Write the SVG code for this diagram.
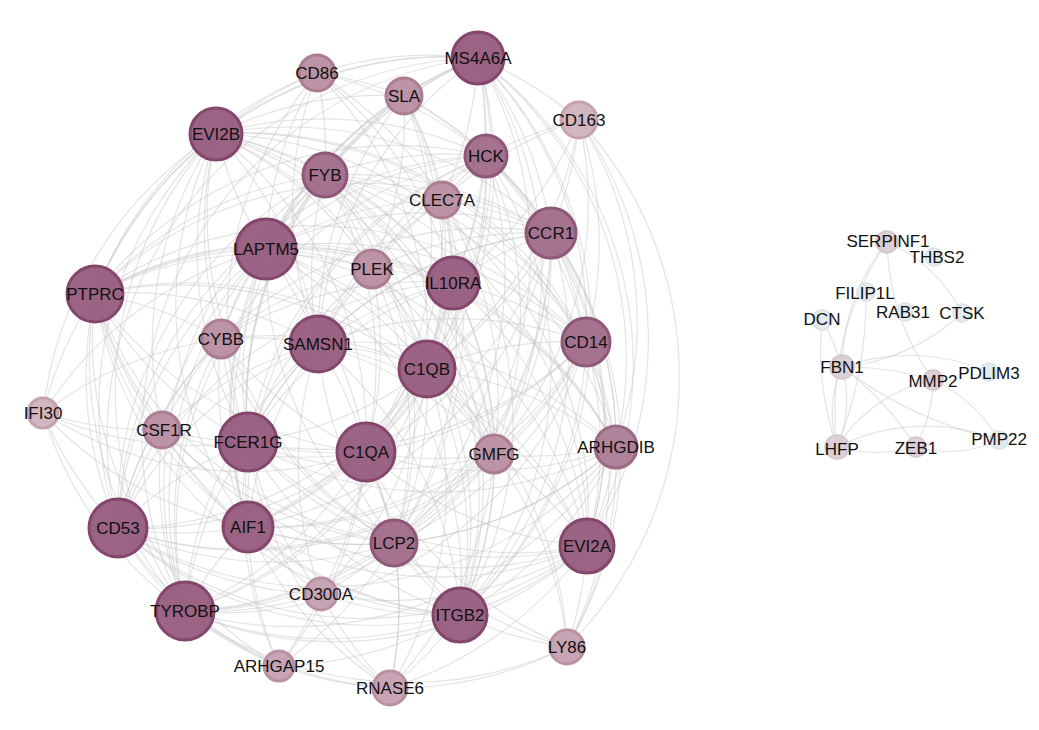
<svg xmlns="http://www.w3.org/2000/svg" width="1039" height="730" viewBox="0 0 1039 730">
<style>
.e path{fill:none;stroke:#c6c6c6;stroke-opacity:.47;stroke-width:1.2}
.n circle{stroke-width:3}
.n text{font-family:"Liberation Sans",Arial,sans-serif;font-size:17px;fill:#111;text-anchor:middle}
.c1 circle{fill:#965b7d;stroke:#84466c;fill-opacity:.95}
.c2 circle{fill:#a06b89;stroke:#8f5879;fill-opacity:.95}
.c3 circle{fill:#ab7c95;stroke:#9c6a86;fill-opacity:.95}
.c4 circle{fill:#b98da1;stroke:#ab7d93;fill-opacity:.95}
.c5 circle{fill:#c5a0b0;stroke:#b991a4;fill-opacity:.95}
.c6 circle{fill:#d0b2be;stroke:#c4a3b1;fill-opacity:.95}
.r1 circle{fill:#dccfd7;stroke:#d3c4cd;stroke-width:1.5}
.r2 circle{fill:#e3ebef;stroke:#d9e3e8;stroke-width:1.5}
</style>
<g id="connectors" class="e">
<path d="M478 58A380 380 0 0 0 216 134"/><path d="M478 58A380 380 0 0 0 266 249"/><path d="M478 58A380 380 0 0 0 95 294"/><path d="M478 58A380 380 0 0 0 318 344"/><path d="M478 58A380 380 0 0 1 427 369"/><path d="M478 58A380 380 0 0 1 453 283"/><path d="M478 58A380 380 0 0 1 551 233"/><path d="M478 58A380 380 0 0 1 366 452"/><path d="M478 58A380 380 0 0 0 248 442"/><path d="M478 58A380 380 0 0 0 118 528"/><path d="M478 58A380 380 0 0 0 248 527"/><path d="M478 58A380 380 0 0 0 185 611"/><path d="M478 58A380 380 0 0 1 460 615"/><path d="M478 58A380 380 0 0 1 587 546"/><path d="M478 58A380 380 0 0 1 394 543"/><path d="M478 58A380 380 0 0 1 586 342"/><path d="M478 58A380 380 0 0 1 486 156"/><path d="M478 58A380 380 0 0 0 325 175"/><path d="M478 58A380 380 0 0 1 616 447"/><path d="M478 58A380 380 0 0 1 494 454"/>
<path d="M216 134A380 380 0 0 0 266 249"/><path d="M216 134A380 380 0 0 0 95 294"/><path d="M216 134A380 380 0 0 1 318 344"/><path d="M216 134A380 380 0 0 1 427 369"/><path d="M216 134A380 380 0 0 1 453 283"/><path d="M216 134A380 380 0 0 1 551 233"/><path d="M216 134A380 380 0 0 1 366 452"/><path d="M216 134A380 380 0 0 0 248 442"/><path d="M216 134A380 380 0 0 0 118 528"/><path d="M216 134A380 380 0 0 0 248 527"/><path d="M216 134A380 380 0 0 0 185 611"/><path d="M216 134A380 380 0 0 1 460 615"/><path d="M216 134A380 380 0 0 1 587 546"/><path d="M216 134A380 380 0 0 0 394 543"/><path d="M216 134A380 380 0 0 1 586 342"/><path d="M216 134A380 380 0 0 1 486 156"/><path d="M216 134A380 380 0 0 1 325 175"/><path d="M216 134A380 380 0 0 1 616 447"/><path d="M216 134A380 380 0 0 1 494 454"/>
<path d="M266 249A380 380 0 0 0 95 294"/><path d="M266 249A380 380 0 0 1 318 344"/><path d="M266 249A380 380 0 0 1 427 369"/><path d="M266 249A380 380 0 0 1 453 283"/><path d="M266 249A380 380 0 0 1 551 233"/><path d="M266 249A380 380 0 0 1 366 452"/><path d="M266 249A380 380 0 0 0 248 442"/><path d="M266 249A380 380 0 0 0 118 528"/><path d="M266 249A380 380 0 0 0 248 527"/><path d="M266 249A380 380 0 0 0 185 611"/><path d="M266 249A380 380 0 0 1 460 615"/><path d="M266 249A380 380 0 0 1 587 546"/><path d="M266 249A380 380 0 0 0 394 543"/><path d="M266 249A380 380 0 0 1 586 342"/><path d="M266 249A380 380 0 0 1 486 156"/><path d="M266 249A380 380 0 0 1 325 175"/><path d="M266 249A380 380 0 0 1 616 447"/><path d="M266 249A380 380 0 0 1 494 454"/>
<path d="M95 294A380 380 0 0 1 318 344"/><path d="M95 294A380 380 0 0 1 427 369"/><path d="M95 294A380 380 0 0 1 453 283"/><path d="M95 294A380 380 0 0 1 551 233"/><path d="M95 294A380 380 0 0 0 366 452"/><path d="M95 294A380 380 0 0 0 248 442"/><path d="M95 294A380 380 0 0 0 118 528"/><path d="M95 294A380 380 0 0 0 248 527"/><path d="M95 294A380 380 0 0 0 185 611"/><path d="M95 294A380 380 0 0 0 460 615"/><path d="M95 294A380 380 0 0 0 587 546"/><path d="M95 294A380 380 0 0 0 394 543"/><path d="M95 294A380 380 0 0 1 586 342"/><path d="M95 294A380 380 0 0 1 486 156"/><path d="M95 294A380 380 0 0 1 325 175"/><path d="M95 294A380 380 0 0 1 616 447"/><path d="M95 294A380 380 0 0 1 494 454"/>
<path d="M318 344A380 380 0 0 1 427 369"/><path d="M318 344A380 380 0 0 1 453 283"/><path d="M318 344A380 380 0 0 1 551 233"/><path d="M318 344A380 380 0 0 1 366 452"/><path d="M318 344A380 380 0 0 0 248 442"/><path d="M318 344A380 380 0 0 0 118 528"/><path d="M318 344A380 380 0 0 0 248 527"/><path d="M318 344A380 380 0 0 0 185 611"/><path d="M318 344A380 380 0 0 1 460 615"/><path d="M318 344A380 380 0 0 1 587 546"/><path d="M318 344A380 380 0 0 0 394 543"/><path d="M318 344A380 380 0 0 1 586 342"/><path d="M318 344A380 380 0 0 1 486 156"/><path d="M318 344A380 380 0 0 1 325 175"/><path d="M318 344A380 380 0 0 1 616 447"/><path d="M318 344A380 380 0 0 1 494 454"/>
<path d="M427 369A380 380 0 0 0 453 283"/><path d="M427 369A380 380 0 0 0 551 233"/><path d="M427 369A380 380 0 0 1 366 452"/><path d="M427 369A380 380 0 0 1 248 442"/><path d="M427 369A380 380 0 0 1 118 528"/><path d="M427 369A380 380 0 0 1 248 527"/><path d="M427 369A380 380 0 0 1 185 611"/><path d="M427 369A380 380 0 0 1 460 615"/><path d="M427 369A380 380 0 0 1 587 546"/><path d="M427 369A380 380 0 0 1 394 543"/><path d="M427 369A380 380 0 0 1 586 342"/><path d="M427 369A380 380 0 0 0 486 156"/><path d="M427 369A380 380 0 0 0 325 175"/><path d="M427 369A380 380 0 0 1 616 447"/><path d="M427 369A380 380 0 0 1 494 454"/>
<path d="M453 283A380 380 0 0 1 551 233"/><path d="M453 283A380 380 0 0 1 366 452"/><path d="M453 283A380 380 0 0 0 248 442"/><path d="M453 283A380 380 0 0 0 118 528"/><path d="M453 283A380 380 0 0 1 248 527"/><path d="M453 283A380 380 0 0 1 185 611"/><path d="M453 283A380 380 0 0 1 460 615"/><path d="M453 283A380 380 0 0 1 587 546"/><path d="M453 283A380 380 0 0 1 394 543"/><path d="M453 283A380 380 0 0 1 586 342"/><path d="M453 283A380 380 0 0 0 486 156"/><path d="M453 283A380 380 0 0 0 325 175"/><path d="M453 283A380 380 0 0 1 616 447"/><path d="M453 283A380 380 0 0 1 494 454"/>
<path d="M551 233A380 380 0 0 1 366 452"/><path d="M551 233A380 380 0 0 0 248 442"/><path d="M551 233A380 380 0 0 0 118 528"/><path d="M551 233A380 380 0 0 1 248 527"/><path d="M551 233A380 380 0 0 1 185 611"/><path d="M551 233A380 380 0 0 1 460 615"/><path d="M551 233A380 380 0 0 1 587 546"/><path d="M551 233A380 380 0 0 1 394 543"/><path d="M551 233A380 380 0 0 1 586 342"/><path d="M551 233A380 380 0 0 0 486 156"/><path d="M551 233A380 380 0 0 0 325 175"/><path d="M551 233A380 380 0 0 1 616 447"/><path d="M551 233A380 380 0 0 1 494 454"/>
<path d="M366 452A380 380 0 0 1 248 442"/><path d="M366 452A380 380 0 0 1 118 528"/><path d="M366 452A380 380 0 0 1 248 527"/><path d="M366 452A380 380 0 0 1 185 611"/><path d="M366 452A380 380 0 0 0 460 615"/><path d="M366 452A380 380 0 0 0 587 546"/><path d="M366 452A380 380 0 0 1 394 543"/><path d="M366 452A380 380 0 0 0 586 342"/><path d="M366 452A380 380 0 0 0 486 156"/><path d="M366 452A380 380 0 0 0 325 175"/><path d="M366 452A380 380 0 0 0 616 447"/><path d="M366 452A380 380 0 0 0 494 454"/>
<path d="M248 442A380 380 0 0 0 118 528"/><path d="M248 442A380 380 0 0 0 248 527"/><path d="M248 442A380 380 0 0 0 185 611"/><path d="M248 442A380 380 0 0 0 460 615"/><path d="M248 442A380 380 0 0 0 587 546"/><path d="M248 442A380 380 0 0 0 394 543"/><path d="M248 442A380 380 0 0 0 586 342"/><path d="M248 442A380 380 0 0 1 486 156"/><path d="M248 442A380 380 0 0 1 325 175"/><path d="M248 442A380 380 0 0 0 616 447"/><path d="M248 442A380 380 0 0 0 494 454"/>
<path d="M118 528A380 380 0 0 0 248 527"/><path d="M118 528A380 380 0 0 0 185 611"/><path d="M118 528A380 380 0 0 0 460 615"/><path d="M118 528A380 380 0 0 0 587 546"/><path d="M118 528A380 380 0 0 0 394 543"/><path d="M118 528A380 380 0 0 0 586 342"/><path d="M118 528A380 380 0 0 1 486 156"/><path d="M118 528A380 380 0 0 1 325 175"/><path d="M118 528A380 380 0 0 0 616 447"/><path d="M118 528A380 380 0 0 0 494 454"/>
<path d="M248 527A380 380 0 0 0 185 611"/><path d="M248 527A380 380 0 0 0 460 615"/><path d="M248 527A380 380 0 0 0 587 546"/><path d="M248 527A380 380 0 0 0 394 543"/><path d="M248 527A380 380 0 0 0 586 342"/><path d="M248 527A380 380 0 0 1 486 156"/><path d="M248 527A380 380 0 0 1 325 175"/><path d="M248 527A380 380 0 0 0 616 447"/><path d="M248 527A380 380 0 0 0 494 454"/>
<path d="M185 611A380 380 0 0 0 460 615"/><path d="M185 611A380 380 0 0 0 587 546"/><path d="M185 611A380 380 0 0 0 394 543"/><path d="M185 611A380 380 0 0 0 586 342"/><path d="M185 611A380 380 0 0 1 486 156"/><path d="M185 611A380 380 0 0 1 325 175"/><path d="M185 611A380 380 0 0 0 616 447"/><path d="M185 611A380 380 0 0 0 494 454"/>
<path d="M460 615A380 380 0 0 0 587 546"/><path d="M460 615A380 380 0 0 1 394 543"/><path d="M460 615A380 380 0 0 0 586 342"/><path d="M460 615A380 380 0 0 0 486 156"/><path d="M460 615A380 380 0 0 0 325 175"/><path d="M460 615A380 380 0 0 0 616 447"/><path d="M460 615A380 380 0 0 0 494 454"/>
<path d="M587 546A380 380 0 0 1 394 543"/><path d="M587 546A380 380 0 0 0 586 342"/><path d="M587 546A380 380 0 0 0 486 156"/><path d="M587 546A380 380 0 0 0 325 175"/><path d="M587 546A380 380 0 0 0 616 447"/><path d="M587 546A380 380 0 0 0 494 454"/>
<path d="M394 543A380 380 0 0 0 586 342"/><path d="M394 543A380 380 0 0 0 486 156"/><path d="M394 543A380 380 0 0 0 325 175"/><path d="M394 543A380 380 0 0 0 616 447"/><path d="M394 543A380 380 0 0 0 494 454"/>
<path d="M586 342A380 380 0 0 0 486 156"/><path d="M586 342A380 380 0 0 0 325 175"/><path d="M586 342A380 380 0 0 1 616 447"/><path d="M586 342A380 380 0 0 1 494 454"/>
<path d="M486 156A380 380 0 0 0 325 175"/><path d="M486 156A380 380 0 0 1 616 447"/><path d="M486 156A380 380 0 0 1 494 454"/>
<path d="M325 175A380 380 0 0 1 616 447"/><path d="M325 175A380 380 0 0 1 494 454"/><path d="M616 447A380 380 0 0 1 494 454"/>
<path d="M317 73A380 380 0 0 0 216 134"/><path d="M317 73A380 380 0 0 0 266 249"/><path d="M317 73A380 380 0 0 1 325 175"/><path d="M317 73A380 380 0 0 1 404 96"/><path d="M317 73A380 380 0 0 1 478 58"/><path d="M317 73A380 380 0 0 0 318 344"/><path d="M317 73A380 380 0 0 0 95 294"/><path d="M317 73A380 380 0 0 1 427 369"/><path d="M317 73A380 380 0 0 1 453 283"/><path d="M317 73A380 380 0 0 1 442 200"/><path d="M317 73A380 380 0 0 1 486 156"/><path d="M317 73A380 380 0 0 0 248 442"/>
<path d="M404 96A380 380 0 0 1 478 58"/><path d="M404 96A380 380 0 0 0 325 175"/><path d="M404 96A380 380 0 0 0 266 249"/><path d="M404 96A380 380 0 0 0 216 134"/><path d="M404 96A380 380 0 0 1 453 283"/><path d="M404 96A380 380 0 0 1 427 369"/><path d="M404 96A380 380 0 0 1 442 200"/><path d="M404 96A380 380 0 0 1 486 156"/><path d="M404 96A380 380 0 0 0 318 344"/><path d="M404 96A380 380 0 0 1 372 269"/><path d="M404 96A380 380 0 0 1 366 452"/><path d="M404 96A380 380 0 0 0 248 442"/><path d="M404 96A380 380 0 0 1 551 233"/>
<path d="M579 120A380 380 0 0 0 478 58"/><path d="M579 120A380 380 0 0 0 486 156"/><path d="M579 120A380 380 0 0 1 551 233"/><path d="M579 120A380 380 0 0 1 586 342"/><path d="M579 120A380 380 0 0 1 587 546"/><path d="M579 120A380 380 0 0 1 616 447"/><path d="M579 120A380 380 0 0 1 453 283"/><path d="M579 120A380 380 0 0 1 427 369"/><path d="M579 120A380 380 0 0 1 494 454"/><path d="M579 120A380 380 0 0 1 567 647"/><path d="M579 120A380 380 0 0 0 442 200"/>
<path d="M442 200A380 380 0 0 0 478 58"/><path d="M442 200A380 380 0 0 1 486 156"/><path d="M442 200A380 380 0 0 0 325 175"/><path d="M442 200A380 380 0 0 0 266 249"/><path d="M442 200A380 380 0 0 0 318 344"/><path d="M442 200A380 380 0 0 1 453 283"/><path d="M442 200A380 380 0 0 1 427 369"/><path d="M442 200A380 380 0 0 1 551 233"/><path d="M442 200A380 380 0 0 1 586 342"/><path d="M442 200A380 380 0 0 0 372 269"/><path d="M442 200A380 380 0 0 1 366 452"/><path d="M442 200A380 380 0 0 1 494 454"/><path d="M442 200A380 380 0 0 1 394 543"/><path d="M442 200A380 380 0 0 1 460 615"/>
<path d="M372 269A380 380 0 0 0 266 249"/><path d="M372 269A380 380 0 0 0 325 175"/><path d="M372 269A380 380 0 0 0 318 344"/><path d="M372 269A380 380 0 0 1 453 283"/><path d="M372 269A380 380 0 0 1 427 369"/><path d="M372 269A380 380 0 0 1 366 452"/><path d="M372 269A380 380 0 0 0 248 442"/><path d="M372 269A380 380 0 0 1 551 233"/><path d="M372 269A380 380 0 0 0 216 134"/><path d="M372 269A380 380 0 0 0 95 294"/><path d="M372 269A380 380 0 0 0 221 339"/><path d="M372 269A380 380 0 0 1 486 156"/><path d="M372 269A380 380 0 0 1 394 543"/><path d="M372 269A380 380 0 0 1 460 615"/><path d="M372 269A380 380 0 0 1 494 454"/>
<path d="M221 339A380 380 0 0 1 266 249"/><path d="M221 339A380 380 0 0 0 95 294"/><path d="M221 339A380 380 0 0 1 216 134"/><path d="M221 339A380 380 0 0 1 318 344"/><path d="M221 339A380 380 0 0 0 248 442"/><path d="M221 339A380 380 0 0 0 366 452"/><path d="M221 339A380 380 0 0 1 427 369"/><path d="M221 339A380 380 0 0 0 248 527"/><path d="M221 339A380 380 0 0 0 118 528"/><path d="M221 339A380 380 0 0 0 185 611"/><path d="M221 339A380 380 0 0 0 162 430"/><path d="M221 339A380 380 0 0 1 325 175"/><path d="M221 339A380 380 0 0 1 453 283"/><path d="M221 339A380 380 0 0 0 394 543"/>
<path d="M162 430A380 380 0 0 1 95 294"/><path d="M162 430A380 380 0 0 1 266 249"/><path d="M162 430A380 380 0 0 0 248 442"/><path d="M162 430A380 380 0 0 0 118 528"/><path d="M162 430A380 380 0 0 0 248 527"/><path d="M162 430A380 380 0 0 0 185 611"/><path d="M162 430A380 380 0 0 0 366 452"/><path d="M162 430A380 380 0 0 1 318 344"/><path d="M162 430A380 380 0 0 1 216 134"/><path d="M162 430A380 380 0 0 1 43 413"/><path d="M162 430A380 380 0 0 0 460 615"/><path d="M162 430A380 380 0 0 0 394 543"/>
<path d="M321 594A380 380 0 0 1 185 611"/><path d="M321 594A380 380 0 0 1 248 527"/><path d="M321 594A380 380 0 0 1 248 442"/><path d="M321 594A380 380 0 0 0 366 452"/><path d="M321 594A380 380 0 0 0 394 543"/><path d="M321 594A380 380 0 0 0 460 615"/><path d="M321 594A380 380 0 0 1 118 528"/><path d="M321 594A380 380 0 0 1 279 666"/><path d="M321 594A380 380 0 0 0 390 688"/><path d="M321 594A380 380 0 0 1 318 344"/><path d="M321 594A380 380 0 0 0 427 369"/><path d="M321 594A380 380 0 0 0 587 546"/>
<path d="M279 666A380 380 0 0 1 185 611"/><path d="M279 666A380 380 0 0 1 118 528"/><path d="M279 666A380 380 0 0 1 248 527"/><path d="M279 666A380 380 0 0 1 248 442"/><path d="M279 666A380 380 0 0 0 390 688"/><path d="M279 666A380 380 0 0 0 460 615"/><path d="M279 666A380 380 0 0 0 366 452"/><path d="M279 666A380 380 0 0 0 394 543"/><path d="M279 666A380 380 0 0 1 95 294"/>
<path d="M390 688A380 380 0 0 1 185 611"/><path d="M390 688A380 380 0 0 0 460 615"/><path d="M390 688A380 380 0 0 0 394 543"/><path d="M390 688A380 380 0 0 0 366 452"/><path d="M390 688A380 380 0 0 0 587 546"/><path d="M390 688A380 380 0 0 0 567 647"/><path d="M390 688A380 380 0 0 1 248 527"/><path d="M390 688A380 380 0 0 1 248 442"/><path d="M390 688A380 380 0 0 0 427 369"/><path d="M390 688A380 380 0 0 0 494 454"/>
<path d="M567 647A380 380 0 0 0 587 546"/><path d="M567 647A380 380 0 0 1 460 615"/><path d="M567 647A380 380 0 0 0 616 447"/><path d="M567 647A380 380 0 0 0 586 342"/><path d="M567 647A380 380 0 0 1 366 452"/><path d="M567 647A380 380 0 0 0 427 369"/><path d="M567 647A380 380 0 0 1 394 543"/><path d="M567 647A380 380 0 0 0 494 454"/><path d="M567 647A380 380 0 0 0 551 233"/><path d="M567 647A380 380 0 0 1 185 611"/>
<path d="M43 413A380 380 0 0 1 95 294"/><path d="M43 413A380 380 0 0 0 118 528"/><path d="M43 413A380 380 0 0 0 185 611"/><path d="M43 413A380 380 0 0 1 216 134"/><path d="M43 413A380 380 0 0 0 248 442"/><path d="M43 413A380 380 0 0 0 248 527"/><path d="M43 413A380 380 0 0 1 266 249"/><path d="M43 413A380 380 0 0 0 366 452"/><path d="M43 413A380 380 0 0 1 221 339"/>
<path d="M887 242A200 200 0 0 0 842 367"/><path d="M887 242A300 300 0 0 0 837 447"/><path d="M887 242A250 250 0 0 0 933 380"/><path d="M887 242A150 150 0 0 1 962 313"/><path d="M866 292A400 400 0 0 1 837 447"/><path d="M822 320A200 200 0 0 1 842 367"/><path d="M822 320A300 300 0 0 0 837 447"/><path d="M842 367A120 120 0 0 0 837 447"/><path d="M842 367A120 120 0 0 1 837 447"/><path d="M842 367A200 200 0 0 1 989 372"/><path d="M842 367A300 300 0 0 1 933 380"/><path d="M842 367A400 400 0 0 0 999 440"/><path d="M842 367A300 300 0 0 1 916 447"/><path d="M962 313A200 200 0 0 1 842 367"/><path d="M837 447A150 150 0 0 1 933 380"/><path d="M837 447A200 200 0 0 1 999 440"/><path d="M837 447A150 150 0 0 0 916 447"/><path d="M933 380A150 150 0 0 1 916 447"/><path d="M916 447A120 120 0 0 0 999 440"/><path d="M933 380A150 150 0 0 1 999 440"/>
</g>
<g id="n-MS4A6A" class="n c1"><circle cx="478" cy="58" r="26"/><text x="478" y="64">MS4A6A</text></g>
<g id="n-CD86" class="n c4"><circle cx="317" cy="73" r="18"/><text x="317" y="79">CD86</text></g>
<g id="n-SLA" class="n c4"><circle cx="404" cy="96" r="18"/><text x="404" y="102">SLA</text></g>
<g id="n-CD163" class="n c6"><circle cx="579" cy="120" r="18"/><text x="579" y="126">CD163</text></g>
<g id="n-EVI2B" class="n c1"><circle cx="216" cy="134" r="26"/><text x="216" y="140">EVI2B</text></g>
<g id="n-HCK" class="n c2"><circle cx="486" cy="156" r="21"/><text x="486" y="162">HCK</text></g>
<g id="n-FYB" class="n c2"><circle cx="325" cy="175" r="22"/><text x="325" y="181">FYB</text></g>
<g id="n-CLEC7A" class="n c4"><circle cx="442" cy="200" r="18"/><text x="442" y="206">CLEC7A</text></g>
<g id="n-CCR1" class="n c2"><circle cx="551" cy="233" r="25"/><text x="551" y="239">CCR1</text></g>
<g id="n-LAPTM5" class="n c1"><circle cx="266" cy="249" r="30"/><text x="266" y="255">LAPTM5</text></g>
<g id="n-PLEK" class="n c4"><circle cx="372" cy="269" r="19"/><text x="372" y="275">PLEK</text></g>
<g id="n-IL10RA" class="n c1"><circle cx="453" cy="283" r="26"/><text x="453" y="289">IL10RA</text></g>
<g id="n-PTPRC" class="n c1"><circle cx="95" cy="294" r="28"/><text x="95" y="300">PTPRC</text></g>
<g id="n-CYBB" class="n c4"><circle cx="221" cy="339" r="19"/><text x="221" y="345">CYBB</text></g>
<g id="n-SAMSN1" class="n c1"><circle cx="318" cy="344" r="28"/><text x="318" y="350">SAMSN1</text></g>
<g id="n-CD14" class="n c2"><circle cx="586" cy="342" r="24"/><text x="586" y="348">CD14</text></g>
<g id="n-C1QB" class="n c1"><circle cx="427" cy="369" r="28"/><text x="427" y="375">C1QB</text></g>
<g id="n-IFI30" class="n c6"><circle cx="43" cy="413" r="15"/><text x="43" y="419">IFI30</text></g>
<g id="n-CSF1R" class="n c4"><circle cx="162" cy="430" r="18"/><text x="164" y="436">CSF1R</text></g>
<g id="n-FCER1G" class="n c1"><circle cx="248" cy="442" r="29"/><text x="248" y="448">FCER1G</text></g>
<g id="n-C1QA" class="n c1"><circle cx="366" cy="452" r="29"/><text x="366" y="458">C1QA</text></g>
<g id="n-GMFG" class="n c4"><circle cx="494" cy="454" r="19"/><text x="494" y="460">GMFG</text></g>
<g id="n-ARHGDIB" class="n c3"><circle cx="616" cy="447" r="21"/><text x="616" y="453">ARHGDIB</text></g>
<g id="n-CD53" class="n c1"><circle cx="118" cy="528" r="29"/><text x="118" y="534">CD53</text></g>
<g id="n-AIF1" class="n c1"><circle cx="248" cy="527" r="25"/><text x="248" y="533">AIF1</text></g>
<g id="n-LCP2" class="n c2"><circle cx="394" cy="543" r="23"/><text x="394" y="549">LCP2</text></g>
<g id="n-EVI2A" class="n c1"><circle cx="587" cy="546" r="27"/><text x="587" y="552">EVI2A</text></g>
<g id="n-CD300A" class="n c5"><circle cx="321" cy="594" r="16"/><text x="321" y="600">CD300A</text></g>
<g id="n-TYROBP" class="n c1"><circle cx="185" cy="611" r="29"/><text x="185" y="617">TYROBP</text></g>
<g id="n-ITGB2" class="n c1"><circle cx="460" cy="615" r="27"/><text x="460" y="621">ITGB2</text></g>
<g id="n-LY86" class="n c5"><circle cx="567" cy="647" r="17"/><text x="567" y="653">LY86</text></g>
<g id="n-ARHGAP15" class="n c5"><circle cx="279" cy="666" r="15"/><text x="279" y="672">ARHGAP15</text></g>
<g id="n-RNASE6" class="n c5"><circle cx="390" cy="688" r="17"/><text x="390" y="694">RNASE6</text></g>
<g id="n-SERPINF1" class="n r1"><circle cx="887" cy="242" r="11"/><text x="888" y="247">SERPINF1</text></g>
<g id="n-THBS2" class="n r2"><circle cx="934" cy="257" r="9"/><text x="937" y="263">THBS2</text></g>
<g id="n-FILIP1L" class="n r2"><circle cx="866" cy="292" r="9"/><text x="865" y="299">FILIP1L</text></g>
<g id="n-DCN" class="n r2"><circle cx="822" cy="320" r="10"/><text x="822" y="325">DCN</text></g>
<g id="n-RAB31" class="n r2"><circle cx="905" cy="312" r="9"/><text x="903" y="318">RAB31</text></g>
<g id="n-CTSK" class="n r2"><circle cx="962" cy="313" r="9"/><text x="962" y="319">CTSK</text></g>
<g id="n-FBN1" class="n r1"><circle cx="842" cy="367" r="12"/><text x="842" y="373">FBN1</text></g>
<g id="n-MMP2" class="n r1"><circle cx="933" cy="380" r="10"/><text x="933" y="387">MMP2</text></g>
<g id="n-PDLIM3" class="n r2"><circle cx="989" cy="372" r="9"/><text x="989" y="379">PDLIM3</text></g>
<g id="n-LHFP" class="n r1"><circle cx="837" cy="447" r="12"/><text x="837" y="455">LHFP</text></g>
<g id="n-ZEB1" class="n r1"><circle cx="916" cy="447" r="10"/><text x="916" y="454">ZEB1</text></g>
<g id="n-PMP22" class="n r2"><circle cx="999" cy="440" r="9"/><text x="999" y="445">PMP22</text></g>
</svg>
